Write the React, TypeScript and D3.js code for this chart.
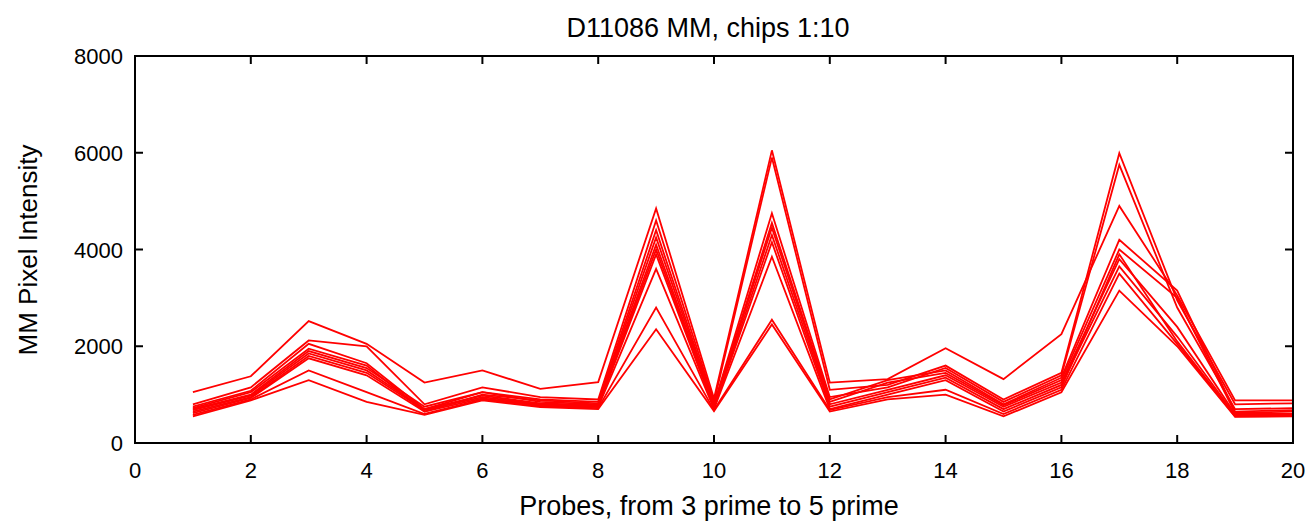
import React from "react";
import * as d3 from "d3";

const probes = d3.range(1, 21);
const xTicks = [0, 2, 4, 6, 8, 10, 12, 14, 16, 18, 20];
const yTicks = [0, 2000, 4000, 6000, 8000];

const chip1 = [1050,1380,2520,2050,1250,1500,1120,1260,4850,920,6050,1250,1320,1960,1320,2250,4900,3050,880,880];
const chip2 = [800,1150,2120,2000,800,1150,950,900,4600,850,5900,1100,1200,1600,900,1450,5990,2950,800,820];
const chip3 = [750,1080,2050,1650,700,1050,900,850,4400,800,4750,950,1150,1550,850,1400,5750,2800,700,720];
const chip4 = [720,1050,1950,1600,650,1000,880,820,4250,780,4550,900,1300,1500,800,1350,4200,3150,650,680];
const chip5 = [700,1000,1900,1550,750,1050,850,800,4100,760,4450,850,1250,1450,780,1300,4000,3000,620,650];
const chip6 = [680,980,1850,1500,700,980,820,780,4000,740,4300,800,1100,1400,750,1250,3800,2400,600,600];
const chip7 = [650,950,1800,1450,680,950,800,760,3900,720,4150,750,1050,1350,700,1200,3650,2200,580,580];
const chip8 = [620,930,1750,1400,650,920,780,740,3600,700,3850,700,1000,1300,650,1150,3900,2100,560,560];
const chip9 = [580,900,1500,1050,600,900,760,720,2800,680,2550,680,950,1100,600,1100,3500,2050,550,560];
const chip10 = [550,880,1300,850,580,880,740,700,2350,660,2450,650,900,1000,550,1050,3150,2000,540,550];

const series = [chip1, chip2, chip3, chip4, chip5, chip6, chip7, chip8, chip9, chip10];

export default function App() {
  const W = 1310, H = 521;
  const left = 135, right = 1293, top = 56, bottom = 443;
  const x = d3.scaleLinear().domain([0, 20]).range([left, right]);
  const y = d3.scaleLinear().domain([0, 8000]).range([bottom, top]);
  const line = d3.line<number>().x((_, i) => x(probes[i])).y((d) => y(d));
  const font = "'Liberation Sans', Arial, Helvetica, sans-serif";
  const tl = 8;
  return (
    <svg width={W} height={H} style={{ position: "absolute", left: 0, top: 0 }} fontFamily={font}>
      <rect width={W} height={H} fill="#fff" />
      <text x={708} y={37} textAnchor="middle" fontSize={27} fill="#000">D11086 MM, chips 1:10</text>
      {series.map((s, i) => (
        <path key={i} d={line(s) || ""} fill="none" stroke="#ff0000" strokeWidth={1.8} strokeLinejoin="miter" />
      ))}
      <rect x={left} y={top} width={right - left} height={bottom - top} fill="none" stroke="#000" strokeWidth={2} />
      {xTicks.map((t) => (
        <g key={"x" + t}>
          <line x1={x(t)} x2={x(t)} y1={bottom} y2={bottom - tl} stroke="#000" strokeWidth={2} />
          <line x1={x(t)} x2={x(t)} y1={top} y2={top + tl} stroke="#000" strokeWidth={2} />
          <text x={x(t)} y={478} textAnchor="middle" fontSize={22} fill="#000">{t}</text>
        </g>
      ))}
      {yTicks.map((t) => (
        <g key={"y" + t}>
          <line x1={left} x2={left + tl} y1={y(t)} y2={y(t)} stroke="#000" strokeWidth={2} />
          <line x1={right} x2={right - tl} y1={y(t)} y2={y(t)} stroke="#000" strokeWidth={2} />
          <text x={left - 12} y={y(t) + 8} textAnchor="end" fontSize={22} fill="#000">{t}</text>
        </g>
      ))}
      <text x={709} y={515} textAnchor="middle" fontSize={27} fill="#000">Probes, from 3 prime to 5 prime</text>
      <text transform={`translate(37,250) rotate(-90)`} textAnchor="middle" fontSize={26} fill="#000">MM Pixel Intensity</text>
    </svg>
  );
}
